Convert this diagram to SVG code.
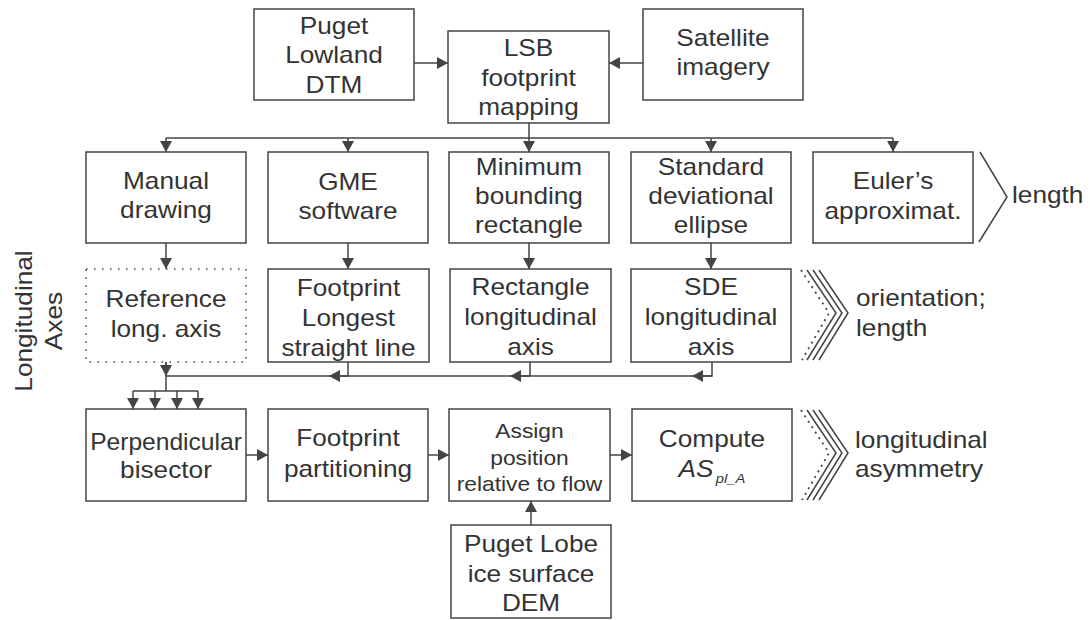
<svg xmlns="http://www.w3.org/2000/svg" width="1090" height="620" viewBox="0 0 1090 620">
  <style>
    .box { fill: #ffffff; stroke: #444444; stroke-width: 1.5; }
    .dotted { fill: #ffffff; stroke: #444444; stroke-width: 1.5; stroke-dasharray: 1.5 6.5; }
    .lbl { font-family: "Liberation Sans", Arial, sans-serif; font-size: 23px; fill: #333333; text-anchor: middle; }
    .small { font-size: 20px; }
    .side { font-family: "Liberation Sans", Arial, sans-serif; font-size: 23px; fill: #333333; }
    .wire { fill: none; stroke: #444444; stroke-width: 1.5; }
    .arrow { fill: none; stroke: #444444; stroke-width: 1.5; marker-end: url(#head); }
    .chev { fill: none; stroke: #444444; stroke-width: 1.5; }
    .chevdot { fill: none; stroke: #444444; stroke-width: 1.8; stroke-dasharray: 2 4.5; }
  </style>
  <defs>
    <marker id="head" markerUnits="userSpaceOnUse" markerWidth="12" markerHeight="12" refX="11" refY="6" orient="auto">
      <path d="M0,0 L11,6 L0,12 z" fill="#444444"/>
    </marker>
  </defs>
  <rect width="1090" height="620" fill="#ffffff"/>

  <!-- connectors -->
  <g id="connectors">
    <line class="arrow" x1="414" y1="63" x2="448" y2="63"/>
    <line class="arrow" x1="643" y1="63" x2="609" y2="63"/>
    <line class="wire" x1="529" y1="123" x2="529" y2="138"/>
    <line class="wire" x1="166" y1="138" x2="893" y2="138"/>
    <line class="arrow" x1="166" y1="138" x2="166" y2="152"/>
    <line class="arrow" x1="348" y1="138" x2="348" y2="152"/>
    <line class="arrow" x1="529" y1="138" x2="529" y2="152"/>
    <line class="arrow" x1="711" y1="138" x2="711" y2="152"/>
    <line class="arrow" x1="893" y1="138" x2="893" y2="152"/>

    <line class="arrow" x1="166" y1="243" x2="166" y2="269"/>
    <line class="arrow" x1="348" y1="243" x2="348" y2="269"/>
    <line class="arrow" x1="529" y1="243" x2="529" y2="269"/>
    <line class="arrow" x1="711" y1="243" x2="711" y2="269"/>

    <!-- return bus from the axis boxes -->
    <polyline class="wire" points="712,362 712,376 166,376"/>
    <line class="wire" x1="348" y1="362" x2="348" y2="376"/>
    <line class="wire" x1="530" y1="362" x2="530" y2="376"/>
    <line class="arrow" x1="348" y1="376" x2="329" y2="376"/>
    <line class="arrow" x1="530" y1="376" x2="510" y2="376"/>
    <line class="arrow" x1="712" y1="376" x2="692" y2="376"/>

    <!-- reference axis down to the bisector -->
    <line class="wire" x1="166" y1="362" x2="166" y2="391"/>
    <line class="arrow" x1="166" y1="362" x2="166" y2="376"/>
    <line class="wire" x1="133" y1="391" x2="198" y2="391"/>
    <line class="arrow" x1="133" y1="391" x2="133" y2="409"/>
    <line class="arrow" x1="155" y1="391" x2="155" y2="409"/>
    <line class="arrow" x1="177" y1="391" x2="177" y2="409"/>
    <line class="arrow" x1="198" y1="391" x2="198" y2="409"/>

    <line class="arrow" x1="246" y1="455" x2="268" y2="455"/>
    <line class="arrow" x1="428" y1="455" x2="449" y2="455"/>
    <line class="arrow" x1="610" y1="455" x2="632" y2="455"/>
    <line class="arrow" x1="531" y1="525" x2="531" y2="501"/>
  </g>

  <!-- top row -->
  <g id="puget-lowland-dtm">
    <rect class="box" x="254" y="9" width="160" height="91"/>
    <text class="lbl" transform="translate(334 0) scale(1.14 1)" y="34">Puget</text>
    <text class="lbl" transform="translate(334 0) scale(1.14 1)" y="63">Lowland</text>
    <text class="lbl" transform="translate(334 0) scale(1.14 1)" y="93">DTM</text>
  </g>
  <g id="lsb-footprint-mapping">
    <rect class="box" x="448" y="31" width="161" height="92"/>
    <text class="lbl" transform="translate(528.5 0) scale(1.14 1)" y="56">LSB</text>
    <text class="lbl" transform="translate(528.5 0) scale(1.14 1)" y="86">footprint</text>
    <text class="lbl" transform="translate(528.5 0) scale(1.14 1)" y="115">mapping</text>
  </g>
  <g id="satellite-imagery">
    <rect class="box" x="643" y="9" width="160" height="91"/>
    <text class="lbl" transform="translate(723 0) scale(1.14 1)" y="46">Satellite</text>
    <text class="lbl" transform="translate(723 0) scale(1.14 1)" y="75">imagery</text>
  </g>

  <!-- methods row -->
  <g id="manual-drawing">
    <rect class="box" x="86" y="152" width="160" height="91"/>
    <text class="lbl" transform="translate(166 0) scale(1.14 1)" y="189">Manual</text>
    <text class="lbl" transform="translate(166 0) scale(1.14 1)" y="218">drawing</text>
  </g>
  <g id="gme-software">
    <rect class="box" x="268" y="152" width="160" height="91"/>
    <text class="lbl" transform="translate(348 0) scale(1.14 1)" y="190">GME</text>
    <text class="lbl" transform="translate(348 0) scale(1.14 1)" y="219">software</text>
  </g>
  <g id="minimum-bounding-rectangle">
    <rect class="box" x="449" y="152" width="160" height="91"/>
    <text class="lbl" transform="translate(529 0) scale(1.14 1)" y="175">Minimum</text>
    <text class="lbl" transform="translate(529 0) scale(1.14 1)" y="204">bounding</text>
    <text class="lbl" transform="translate(529 0) scale(1.14 1)" y="233">rectangle</text>
  </g>
  <g id="standard-deviational-ellipse">
    <rect class="box" x="631" y="152" width="160" height="91"/>
    <text class="lbl" transform="translate(711 0) scale(1.14 1)" y="175">Standard</text>
    <text class="lbl" transform="translate(711 0) scale(1.14 1)" y="204">deviational</text>
    <text class="lbl" transform="translate(711 0) scale(1.14 1)" y="233">ellipse</text>
  </g>
  <g id="euler-approximation">
    <rect class="box" x="813" y="152" width="160" height="91"/>
    <text class="lbl" transform="translate(893 0) scale(1.14 1)" y="189">Euler’s</text>
    <text class="lbl" transform="translate(893 0) scale(1.14 1)" y="219">approximat.</text>
  </g>
  <g id="length-note">
    <polyline class="chev" points="980,152 1007,197 979,242"/>
    <text class="side" transform="translate(1012 0) scale(1.14 1)" y="203">length</text>
  </g>

  <!-- axes row -->
  <g id="reference-long-axis">
    <rect class="dotted" x="86" y="269" width="160" height="93"/>
    <text class="lbl" transform="translate(166 0) scale(1.14 1)" y="307">Reference</text>
    <text class="lbl" transform="translate(166 0) scale(1.14 1)" y="337">long. axis</text>
  </g>
  <g id="footprint-longest-line">
    <rect class="box" x="268" y="269" width="161" height="93"/>
    <text class="lbl" transform="translate(348.5 0) scale(1.14 1)" y="296">Footprint</text>
    <text class="lbl" transform="translate(348.5 0) scale(1.14 1)" y="326">Longest</text>
    <text class="lbl" transform="translate(348.5 0) scale(1.14 1)" y="356">straight line</text>
  </g>
  <g id="rectangle-longitudinal-axis">
    <rect class="box" x="450" y="269" width="161" height="93"/>
    <text class="lbl" transform="translate(530.5 0) scale(1.14 1)" y="295">Rectangle</text>
    <text class="lbl" transform="translate(530.5 0) scale(1.14 1)" y="325">longitudinal</text>
    <text class="lbl" transform="translate(530.5 0) scale(1.14 1)" y="355">axis</text>
  </g>
  <g id="sde-longitudinal-axis">
    <rect class="box" x="631" y="269" width="160" height="93"/>
    <text class="lbl" transform="translate(711 0) scale(1.14 1)" y="295">SDE</text>
    <text class="lbl" transform="translate(711 0) scale(1.14 1)" y="325">longitudinal</text>
    <text class="lbl" transform="translate(711 0) scale(1.14 1)" y="355">axis</text>
  </g>
  <g id="orientation-note">
    <polyline class="chevdot" points="801,270 829,313 802,360"/>
    <polyline class="chev" points="807,270 836,313 807,360"/>
    <polyline class="chev" points="813,270 842,313 813,360"/>
    <polyline class="chev" points="819,270 848,313 819,360"/>
    <text class="side" transform="translate(856 0) scale(1.14 1)" y="306">orientation;</text>
    <text class="side" transform="translate(856 0) scale(1.14 1)" y="336">length</text>
  </g>

  <g id="axes-label">
    <text class="lbl" transform="translate(32 321) rotate(-90) scale(1.14 1)">Longitudinal</text>
    <text class="lbl" transform="translate(62 321) rotate(-90) scale(1.14 1)">Axes</text>
  </g>

  <!-- asymmetry row -->
  <g id="perpendicular-bisector">
    <rect class="box" x="86" y="409" width="160" height="92"/>
    <text class="lbl" transform="translate(166 0) scale(1.07 1)" y="450">Perpendicular</text>
    <text class="lbl" transform="translate(166 0) scale(1.14 1)" y="478">bisector</text>
  </g>
  <g id="footprint-partitioning">
    <rect class="box" x="268" y="409" width="160" height="92"/>
    <text class="lbl" transform="translate(348 0) scale(1.14 1)" y="446">Footprint</text>
    <text class="lbl" transform="translate(348 0) scale(1.14 1)" y="477">partitioning</text>
  </g>
  <g id="assign-position">
    <rect class="box" x="449" y="409" width="161" height="92"/>
    <text class="lbl small" transform="translate(529.5 0) scale(1.14 1)" y="438">Assign</text>
    <text class="lbl small" transform="translate(529.5 0) scale(1.14 1)" y="465">position</text>
    <text class="lbl small" transform="translate(529.5 0) scale(1.14 1)" y="491">relative to flow</text>
  </g>
  <g id="compute-as">
    <rect class="box" x="632" y="409" width="160" height="92"/>
    <text class="lbl" transform="translate(712 0) scale(1.14 1)" y="447">Compute</text>
    <text class="lbl" transform="translate(712 0) scale(1.14 1)" y="477"><tspan font-style="italic">AS</tspan><tspan font-style="italic" font-size="13" dx="2" dy="6">pl_A</tspan></text>
  </g>
  <g id="asymmetry-note">
    <polyline class="chevdot" points="801,410 829,453 802,500"/>
    <polyline class="chev" points="807,410 836,453 807,500"/>
    <polyline class="chev" points="813,410 842,453 813,500"/>
    <polyline class="chev" points="819,410 848,453 819,500"/>
    <text class="side" transform="translate(855 0) scale(1.14 1)" y="448">longitudinal</text>
    <text class="side" transform="translate(855 0) scale(1.14 1)" y="477">asymmetry</text>
  </g>
  <g id="puget-lobe-dem">
    <rect class="box" x="451" y="525" width="160" height="93"/>
    <text class="lbl" transform="translate(531 0) scale(1.14 1)" y="552">Puget Lobe</text>
    <text class="lbl" transform="translate(531 0) scale(1.14 1)" y="582">ice surface</text>
    <text class="lbl" transform="translate(531 0) scale(1.14 1)" y="611">DEM</text>
  </g>
</svg>
